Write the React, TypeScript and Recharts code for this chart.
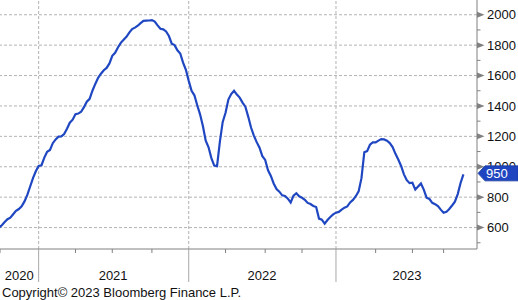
import React from 'react';
import { LineChart, Line, XAxis, YAxis, ReferenceLine } from 'recharts';

// Weekly series, week index counted from the first week of 2021
const FIRST_WEEK = -14;
const values: number[] = [
  600, 615, 636, 655, 665, 688, 710, 722, 740, 772, 815, 870, 925, 970,
  1005, 1010, 1060, 1099, 1110, 1155, 1180, 1198, 1200, 1215, 1250, 1290, 1310, 1346,
  1350, 1362, 1392, 1428, 1447, 1500, 1545, 1585, 1612, 1635, 1650, 1680, 1730, 1750,
  1785, 1815, 1836, 1855, 1883, 1906, 1915, 1928, 1945, 1960, 1961, 1962, 1965, 1955,
  1930, 1908, 1904, 1890, 1860, 1810, 1800, 1766, 1745, 1685, 1638, 1565, 1500, 1470,
  1405, 1345, 1268, 1172, 1128, 1057, 1008, 1004, 1165, 1295, 1355, 1442, 1478, 1500,
  1475, 1455, 1422, 1395, 1330, 1258, 1205, 1162, 1125, 1070, 1045, 977, 940, 890,
  853, 836, 812, 808, 790, 765, 810, 826, 806, 796, 783, 762, 755, 742,
  735, 659, 652, 626, 650, 670, 687, 698, 703, 718, 731, 739, 765, 782,
  806, 838, 925, 1095, 1103, 1145, 1160, 1160, 1172, 1182, 1180, 1171, 1156, 1130,
  1085, 1048, 1005, 950, 912, 892, 895, 850, 870, 890, 850, 797, 788, 763,
  754, 741, 718, 697, 703, 722, 745, 770, 820, 893, 950,
];

const xDomain: [number, number] = [-13.65, 154.8];
const yDomain: [number, number] = [459, 2097];

const yMajorTicks = [600, 800, 1000, 1200, 1400, 1600, 1800, 2000];
const yMinorTicks = [500, 700, 900, 1100, 1300, 1500, 1700, 1900];

const quarterTicks = [-13.65, 13, 26, 40, 66, 80, 93, 119, 132, 143];
const yearBoundaries = [0, 53, 105];
const yearLabels = ['2020', '2021', '2022', '2023'];
const yearLabelWeeks = [-6.85, 26.3, 78.9, 130.1];

const data = values.map((v, i) => ({ week: FIRST_WEEK + i, value: v }));
const lastValue = values[values.length - 1];

const FONT = '"Liberation Sans", Arial, sans-serif';
const LINE_COLOR = '#2047c2';
const GRID = '#b3b3b3';
const AXIS = '#808080';

const xTickValues = [...quarterTicks, ...yearBoundaries, ...yearLabelWeeks].sort((a, b) => a - b);
// the last-value marker is listed last so it is painted above the regular labels
const yTickValues = [...[...yMinorTicks, ...yMajorTicks].sort((a, b) => a - b), lastValue + 0.001];

const XTick = (props: any) => {
  const { x, y, payload } = props;
  const v = payload.value;
  const li = yearLabelWeeks.indexOf(v);
  if (li >= 0) {
    return (
      <text x={x} y={y + 30.6} textAnchor="middle" fontSize={13} fontFamily={FONT} fill="#111">
        {yearLabels[li]}
      </text>
    );
  }
  if (yearBoundaries.indexOf(v) >= 0) {
    return <line x1={x} x2={x} y1={y} y2={y + 33} stroke="#a8a8a8" strokeWidth={1} />;
  }
  return <line x1={x} x2={x} y1={y} y2={y + 4} stroke={AXIS} strokeWidth={1} />;
};

const YTick = (props: any) => {
  const { x, y, payload } = props;
  const v = payload.value;
  if (yMajorTicks.indexOf(v) >= 0) {
    return (
      <g>
        <polygon points={`${x},${y - 3} ${x + 7.5},${y} ${x},${y + 3}`} fill={AXIS} />
        <text x={x + 10} y={y + 4.7} textAnchor="start" fontSize={13} fontFamily={FONT} fill="#111">
          {v}
        </text>
      </g>
    );
  }
  if (yMinorTicks.indexOf(v) >= 0) {
    return <line x1={x} x2={x + 3.5} y1={y} y2={y} stroke={AXIS} strokeWidth={1} />;
  }
  // last value marker
  const left = x + 1;
  const right = 518;
  const h = 7.5;
  const cy = y - 1;
  const pts = `${left},${cy} ${left + 7},${cy - h} ${right},${cy - h} ${right},${cy + h} ${left + 7},${cy + h}`;
  return (
    <g>
      <polygon points={pts} fill="#1f45c0" stroke="#163a9e" strokeWidth={0.8} />
      <text x={left + 8} y={cy + 4.7} fontSize={13} fontFamily={FONT} fill="#ffffff">
        {lastValue}
      </text>
    </g>
  );
};

export default function App() {
  return (
    <div style={{ position: 'absolute', left: 0, top: 0, width: 518, height: 300, background: '#fff' }}>
      <LineChart width={518} height={300} data={data} margin={{ top: 0, right: 0, bottom: 0, left: 0 }}>
        {yMajorTicks.map((t) => (
          <ReferenceLine key={'h' + t} y={t} stroke={GRID} strokeDasharray="3 2" />
        ))}
        {yearBoundaries.map((t) => (
          <ReferenceLine key={'v' + t} x={t} stroke={GRID} strokeDasharray="3 2" />
        ))}
        <XAxis
          dataKey="week"
          type="number"
          domain={xDomain}
          allowDataOverflow
          ticks={xTickValues}
          interval={0}
          tick={<XTick />}
          tickLine={false}
          tickSize={0}
          tickMargin={0}
          height={51}
          axisLine={{ stroke: AXIS, strokeWidth: 1 }}
        />
        <YAxis
          orientation="right"
          type="number"
          domain={yDomain}
          allowDataOverflow
          ticks={yTickValues}
          interval={0}
          tick={<YTick />}
          tickLine={false}
          tickSize={0}
          tickMargin={0}
          width={41}
          axisLine={{ stroke: AXIS, strokeWidth: 1 }}
        />
        <Line
          type="linear"
          dataKey="value"
          stroke={LINE_COLOR}
          strokeWidth={2.2}
          dot={false}
          isAnimationActive={false}
        />
      </LineChart>
      <div
        style={{
          position: 'absolute',
          left: 2,
          top: 284.5,
          fontSize: 13,
          lineHeight: '15px',
          fontFamily: FONT,
          color: '#111',
          whiteSpace: 'nowrap',
        }}
      >
        Copyright© 2023 Bloomberg Finance L.P.
      </div>
    </div>
  );
}
